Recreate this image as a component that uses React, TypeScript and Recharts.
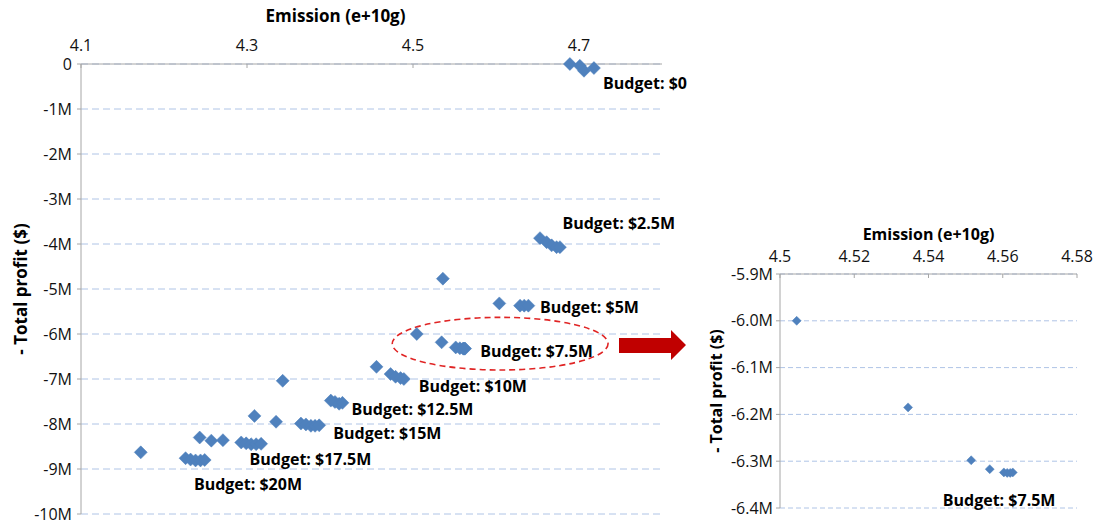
import React from 'react';
import {
  ScatterChart,
  Scatter,
  XAxis,
  YAxis,
  CartesianGrid,
  ReferenceDot,
  ReferenceArea,
} from 'recharts';

const FONT = '"Open Sans", "DejaVu Sans", sans-serif';
const BLUE = '#4F81BD';
const GRID = '#AFC4E6';
const AXIS = '#A6A6A6';
const TEXT = '#111111';

// emission (e+10g) vs -total profit (millions $), one array per budget
const budget0 = [
  { x: 4.689, y: 0 },
  { x: 4.701, y: -0.04 },
  { x: 4.706, y: -0.15 },
  { x: 4.718, y: -0.09 },
];
const budget2_5M = [
  { x: 4.653, y: -3.87 },
  { x: 4.661, y: -3.96 },
  { x: 4.667, y: -4.03 },
  { x: 4.673, y: -4.07 },
  { x: 4.677, y: -4.07 },
];
const budget5M = [
  { x: 4.536, y: -4.77 },
  { x: 4.604, y: -5.32 },
  { x: 4.629, y: -5.37 },
  { x: 4.634, y: -5.37 },
  { x: 4.639, y: -5.37 },
];
const budget7_5M = [
  { x: 4.5045, y: -6.0 },
  { x: 4.5345, y: -6.185 },
  { x: 4.5515, y: -6.298 },
  { x: 4.5565, y: -6.317 },
  { x: 4.5603, y: -6.324 },
  { x: 4.5612, y: -6.325 },
  { x: 4.5620, y: -6.325 },
  { x: 4.5627, y: -6.324 },
];
const budget10M = [
  { x: 4.456, y: -6.73 },
  { x: 4.473, y: -6.89 },
  { x: 4.479, y: -6.95 },
  { x: 4.485, y: -6.98 },
  { x: 4.489, y: -7.0 },
];
const budget12_5M = [
  { x: 4.343, y: -7.04 },
  { x: 4.401, y: -7.48 },
  { x: 4.406, y: -7.51 },
  { x: 4.411, y: -7.55 },
  { x: 4.415, y: -7.53 },
];
const budget15M = [
  { x: 4.309, y: -7.82 },
  { x: 4.335, y: -7.95 },
  { x: 4.365, y: -7.99 },
  { x: 4.371, y: -8.01 },
  { x: 4.377, y: -8.04 },
  { x: 4.382, y: -8.04 },
  { x: 4.387, y: -8.03 },
];
const budget17_5M = [
  { x: 4.243, y: -8.3 },
  { x: 4.257, y: -8.37 },
  { x: 4.271, y: -8.36 },
  { x: 4.293, y: -8.41 },
  { x: 4.299, y: -8.43 },
  { x: 4.305, y: -8.45 },
  { x: 4.311, y: -8.45 },
  { x: 4.317, y: -8.44 },
];
const budget20M = [
  { x: 4.172, y: -8.63 },
  { x: 4.226, y: -8.76 },
  { x: 4.232, y: -8.79 },
  { x: 4.238, y: -8.81 },
  { x: 4.244, y: -8.81 },
  { x: 4.249, y: -8.8 },
];
const allBudgets = [
  budget0, budget2_5M, budget5M, budget7_5M, budget10M,
  budget12_5M, budget15M, budget17_5M, budget20M,
];

const mainXTicks = [4.1, 4.3, 4.5, 4.7];
const mainYTicks = [0, -1, -2, -3, -4, -5, -6, -7, -8, -9, -10];
const zoomXTicks = [4.5, 4.52, 4.54, 4.56, 4.58];
const zoomYTicks = [-5.9, -6.0, -6.1, -6.2, -6.3, -6.4];

// budget annotations, anchored in data units
const mainLabels = [
  { text: 'Budget: $0', x: 4.723, y: -0.42 },
  { text: 'Budget: $2.5M', x: 4.674, y: -3.53 },
  { text: 'Budget: $5M', x: 4.647, y: -5.41 },
  { text: 'Budget: $7.5M', x: 4.575, y: -6.38 },
  { text: 'Budget: $10M', x: 4.501, y: -7.17 },
  { text: 'Budget: $12.5M', x: 4.42, y: -7.67 },
  { text: 'Budget: $15M', x: 4.398, y: -8.21 },
  { text: 'Budget: $17.5M', x: 4.297, y: -8.79 },
  { text: 'Budget: $20M', x: 4.23, y: -9.33 },
];
const zoomLabels = [{ text: 'Budget: $7.5M', x: 4.5425, y: -6.383 }];

const diamond = (r: number) => (props: any) => {
  const { cx, cy } = props;
  if (cx == null || cy == null) return <g />;
  return (
    <polygon
      points={`${cx},${cy - r} ${cx + r},${cy} ${cx},${cy + r} ${cx - r},${cy}`}
      fill={BLUE}
      stroke={BLUE}
      strokeWidth={0.5}
    />
  );
};
const bigDiamond = diamond(6.5);
const smallDiamond = diamond(4.5);

const tickStyle = { fill: TEXT, fontSize: 16, fontFamily: FONT };

const budgetLabel = (text: string) => ({
  value: text,
  position: 'right' as const,
  offset: 5,
  fill: '#000',
  fontSize: 16,
  fontWeight: 700,
  fontFamily: FONT,
});

const MainChart = () => (
  <ScatterChart width={700} height={526} margin={{ top: 0, right: 38, bottom: 12, left: 0 }}>
    <CartesianGrid vertical={false} stroke={GRID} strokeDasharray="7 4" />
    <XAxis
      type="number"
      dataKey="x"
      orientation="top"
      domain={[4.1, 4.8]}
      ticks={mainXTicks}
      height={64}
      tick={tickStyle}
      tickSize={-4}
      tickMargin={17}
      axisLine={{ stroke: AXIS }}
      tickLine={{ stroke: AXIS }}
      label={{
        value: 'Emission (e+10g)',
        position: 'insideTop',
        offset: 10,
        dx: -36,
        fill: '#000',
        fontSize: 17,
        fontWeight: 700,
        fontFamily: FONT,
      }}
    />
    <YAxis
      type="number"
      dataKey="y"
      domain={[-10, 0]}
      ticks={mainYTicks}
      width={81}
      tick={tickStyle}
      tickSize={4}
      tickMargin={5}
      tickFormatter={(v: number) => (v === 0 ? '0' : `${v}M`)}
      axisLine={{ stroke: AXIS }}
      tickLine={{ stroke: AXIS }}
      label={{
        value: '- Total profit ($)',
        angle: -90,
        position: 'insideLeft',
        offset: 21,
        fill: '#000',
        fontSize: 17,
        fontWeight: 700,
        fontFamily: FONT,
        style: { textAnchor: 'middle' },
      }}
    />
    <ReferenceArea
      x1={4.475}
      x2={4.735}
      y1={-5.63}
      y2={-6.8}
      ifOverflow="visible"
      shape={(p: any) => (
        <ellipse
          cx={p.x + p.width / 2}
          cy={p.y + p.height / 2}
          rx={Math.abs(p.width) / 2}
          ry={Math.abs(p.height) / 2}
          fill="none"
          stroke="#E02424"
          strokeWidth={1.6}
          strokeDasharray="6 4"
        />
      )}
    />
    {allBudgets.map((d, i) => (
      <Scatter key={i} data={d} shape={bigDiamond} isAnimationActive={false} />
    ))}
    {mainLabels.map((l) => (
      <ReferenceDot
        key={l.text}
        x={l.x}
        y={l.y}
        r={0}
        fill="none"
        stroke="none"
        ifOverflow="visible"
        label={budgetLabel(l.text)}
      />
    ))}
  </ScatterChart>
);

const ZoomChart = () => (
  <ScatterChart width={396} height={316} margin={{ top: 0, right: 19, bottom: 18, left: 0 }}>
    <CartesianGrid vertical={false} stroke={GRID} strokeDasharray="5 3" />
    <XAxis
      type="number"
      dataKey="x"
      orientation="top"
      domain={[4.5, 4.58]}
      ticks={zoomXTicks}
      height={64}
      tick={tickStyle}
      tickSize={-4}
      tickMargin={16}
      tickFormatter={(v: number) => String(v)}
      axisLine={{ stroke: AXIS }}
      tickLine={{ stroke: AXIS }}
      label={{
        value: 'Emission (e+10g)',
        position: 'insideTop',
        offset: 19,
        fill: '#000',
        fontSize: 16,
        fontWeight: 700,
        fontFamily: FONT,
      }}
    />
    <YAxis
      type="number"
      dataKey="y"
      domain={[-6.4, -5.9]}
      ticks={zoomYTicks}
      width={80}
      tick={tickStyle}
      tickSize={4}
      tickMargin={3}
      tickFormatter={(v: number) => `${v.toFixed(1)}M`}
      axisLine={{ stroke: AXIS }}
      tickLine={{ stroke: AXIS }}
      label={{
        value: '- Total profit ($)',
        angle: -90,
        position: 'insideLeft',
        offset: 16,
        fill: '#000',
        fontSize: 16,
        fontWeight: 700,
        fontFamily: FONT,
        style: { textAnchor: 'middle' },
      }}
    />
    <Scatter data={budget7_5M} shape={smallDiamond} isAnimationActive={false} />
    {zoomLabels.map((l) => (
      <ReferenceDot
        key={l.text}
        x={l.x}
        y={l.y}
        r={0}
        fill="none"
        stroke="none"
        ifOverflow="visible"
        label={budgetLabel(l.text)}
      />
    ))}
  </ScatterChart>
);

export default function App() {
  return (
    <div
      style={{
        position: 'absolute',
        left: 0,
        top: 0,
        width: 1096,
        height: 526,
        background: '#fff',
        fontFamily: FONT,
        overflow: 'hidden',
      }}
    >
      <div style={{ position: 'absolute', left: 0, top: 0 }}>
        <MainChart />
      </div>
      <div style={{ position: 'absolute', left: 700, top: 210 }}>
        <ZoomChart />
      </div>
      {/* red arrow pointing from the circled cluster to the zoomed view */}
      <svg
        width={1096}
        height={526}
        style={{ position: 'absolute', left: 0, top: 0, pointerEvents: 'none' }}
      >
        <polygon
          points="619,338 671,338 671,330 686,345 671,360 671,353 619,353"
          fill="#C00000"
        />
      </svg>
    </div>
  );
}
